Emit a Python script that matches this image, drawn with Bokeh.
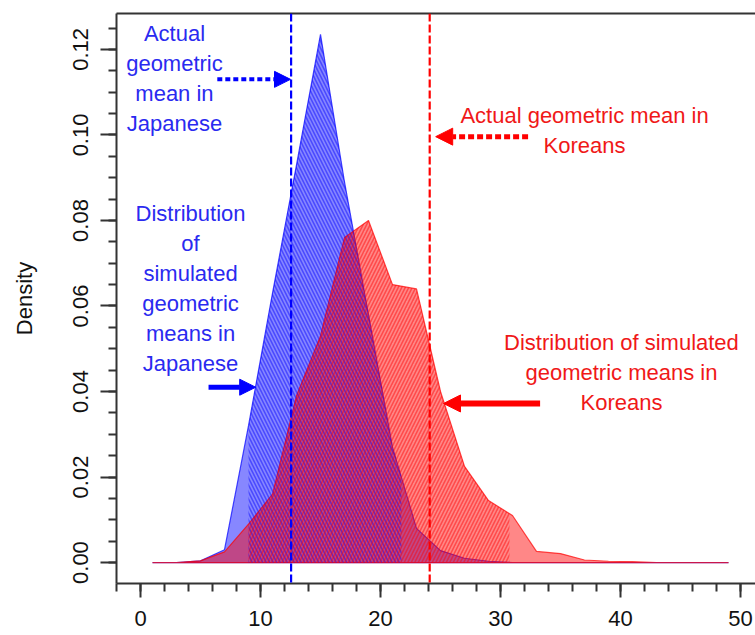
import numpy as np
from bokeh.plotting import figure
from bokeh.models import (Range1d, SingleIntervalTicker, LinearAxis, FixedTicker,
                          Span, Arrow, NormalHead, PrintfTickFormatter)
from bokeh.core.properties import value
from bokeh.embed import file_html
from bokeh.resources import INLINE

# ---------------- data ----------------
bin_mid = [1, 3, 5, 7, 9, 11, 13, 15, 17, 19, 21, 23, 25, 27, 29, 31, 33, 35, 37, 39, 41, 43, 45, 47, 49]
japan_density = [0.0, 0.0, 0.0004, 0.003, 0.032, 0.063, 0.093, 0.1235, 0.089, 0.058, 0.027, 0.008, 0.0028,
                 0.001, 0.0003, 0.0, 0.0, 0.0, 0.0, 0.0, 0.0, 0.0, 0.0, 0.0, 0.0]
korea_density = [0.0, 0.0, 0.0004, 0.0025, 0.009, 0.016, 0.039, 0.053, 0.076, 0.080, 0.065, 0.064, 0.040,
                 0.0225, 0.0145, 0.011, 0.0026, 0.0021, 0.0006, 0.0003, 0.0002, 0.0, 0.0, 0.0, 0.0]
japan_interval = [9.0, 21.75]
korea_interval = [9.0, 30.75]
japan_actual_mean = 12.55
korea_actual_mean = 24.1

FONT = "Liberation Sans"
BLUE = "#0000ff"
RED = "#ff0000"

p = figure(width=755, height=635, output_backend="svg", toolbar_location=None,
           x_range=Range1d(-2, 51.25), y_range=Range1d(-0.0049, 0.1284),
           x_axis_type=None, y_axis_type=None,
           min_border_left=116, min_border_right=0, min_border_top=13, min_border_bottom=52)
p.outline_line_color = None
p.background_fill_color = "white"
p.border_fill_color = "white"

def style_axis(ax):
    ax.axis_line_width = 2
    ax.axis_line_color = "#333333"
    ax.major_tick_line_width = 2
    ax.major_tick_line_color = "#333333"
    ax.minor_tick_line_width = 2
    ax.minor_tick_line_color = "#333333"
    ax.major_tick_in = 0
    ax.minor_tick_in = 0
    ax.major_tick_out = 14
    ax.minor_tick_out = 8
    ax.major_label_text_font = FONT
    ax.major_label_text_font_size = "22px"
    ax.major_label_text_color = "#111111"
    ax.axis_label_text_font = FONT
    ax.axis_label_text_font_size = "22px"
    ax.axis_label_text_font_style = "normal"
    ax.axis_label_text_color = "#111111"

xaxis = LinearAxis(ticker=SingleIntervalTicker(interval=10, num_minor_ticks=5))
style_axis(xaxis)
xaxis.major_label_standoff = 13
p.add_layout(xaxis, "below")

yaxis = LinearAxis(ticker=SingleIntervalTicker(interval=0.02, num_minor_ticks=4),
                   formatter=PrintfTickFormatter(format="%.2f"), axis_label="Density")
style_axis(yaxis)
yaxis.major_tick_out = 16
yaxis.major_label_orientation = "vertical"
yaxis.major_label_standoff = 12
yaxis.axis_label_standoff = 34
p.add_layout(yaxis, "left")

top = LinearAxis(ticker=FixedTicker(ticks=[]), major_label_text_font_size="0px")
top.axis_line_width = 2
top.axis_line_color = "#333333"
p.add_layout(top, "above")

# ---------------- distributions ----------------
def clipped(xs, ys, lo, hi):
    xs = np.asarray(xs, float)
    ys = np.asarray(ys, float)
    inner = xs[(xs > lo) & (xs < hi)]
    cx = np.r_[lo, inner, hi]
    cy = np.interp(cx, xs, ys)
    return cx, cy

xb = np.asarray(bin_mid, float)
series = [(np.asarray(japan_density, float), japan_interval, BLUE, "\\"),
          (np.asarray(korea_density, float), korea_interval, RED, "/")]

# filled polygons first
for d, interval, col, hatch in series:
    p.patch(x=np.r_[xb, xb[::-1]], y=np.r_[d, np.zeros_like(d)],
            fill_color=col, fill_alpha=0.47, line_color=col, line_alpha=0.7, line_width=1.2)
# hatched intervals on top of both fills
for d, interval, col, hatch in series:
    hx, hy = clipped(xb, d, interval[0], interval[1])
    p.varea(x=hx, y1=np.zeros_like(hy), y2=hy, fill_color=None, fill_alpha=0,
            hatch_pattern=hatch, hatch_color=col, hatch_alpha=0.45, hatch_scale=7, hatch_weight=1.6)

# ---------------- actual means ----------------
for m, col in [(japan_actual_mean, BLUE), (korea_actual_mean, RED)]:
    p.add_layout(Span(location=m, dimension="height", line_color=col, line_width=2.2, line_dash="8 3"))

# ---------------- arrows ----------------
def arrow(x0, y0, x1, y1, col, width, dash, size):
    p.add_layout(Arrow(end=NormalHead(size=size, fill_color=col, line_color=col, line_width=1),
                       x_start=x0, y_start=y0, x_end=x1, y_end=y1,
                       line_color=col, line_width=width, line_dash=dash))

arrow(6.4, 0.113, 12.5, 0.113, BLUE, 4, "5 3", 16)
arrow(32.3, 0.0996, 24.6, 0.0996, RED, 5, "6 3", 17)
arrow(5.67, 0.041, 9.6, 0.041, BLUE, 5, "solid", 16)
arrow(33.3, 0.0372, 25.25, 0.0372, RED, 6, "solid", 17)

# ---------------- annotations ----------------
p.text(x=[2.83, 4.17], y=[0.1131, 0.0642],
       text=["Actual\ngeometric\nmean in\nJapanese",
             "Distribution\nof\nsimulated\ngeometric\nmeans in\nJapanese"],
       text_font=value(FONT), text_font_size="22px", text_color="#2a2af0",
       text_align="center", text_baseline="middle", text_line_height=1.2)
p.text(x=[37.0, 40.08], y=[0.1011, 0.04456],
       text=["Actual geometric mean in\nKoreans",
             "Distribution of simulated\ngeometric means in\nKoreans"],
       text_font=value(FONT), text_font_size="22px", text_color="#f01818",
       text_align="center", text_baseline="middle", text_line_height=1.2)

open("out.html", "w").write(file_html(p, INLINE))
